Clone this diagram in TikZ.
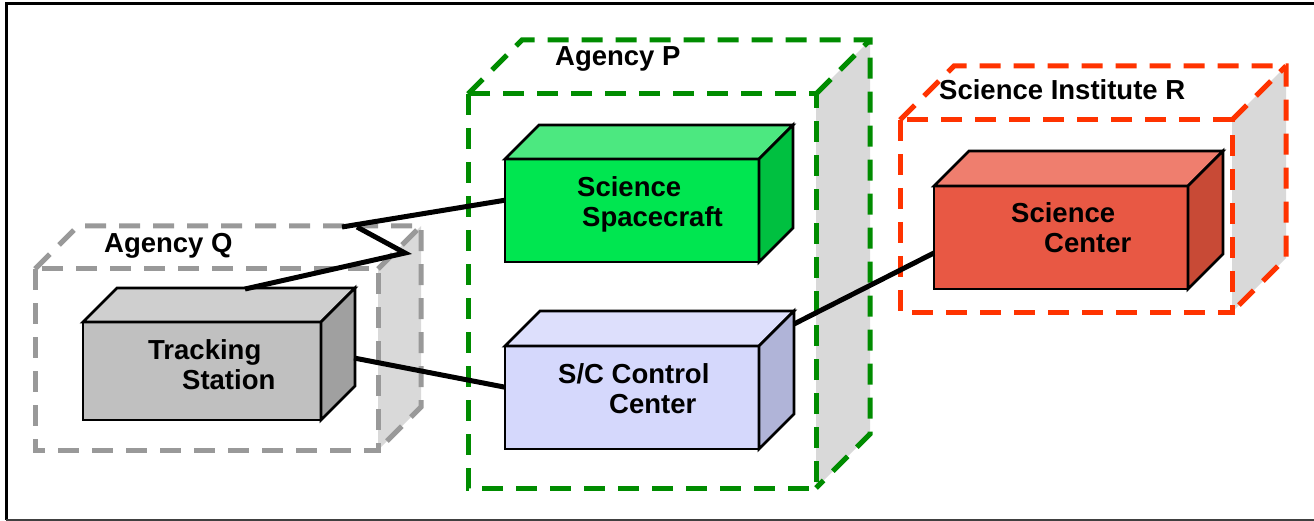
\documentclass[tikz,border=0pt]{standalone}
\usepackage{fontspec}
\setmainfont{Liberation Sans}
\usetikzlibrary{calc}

\definecolor{wiregray}{HTML}{999999}
\definecolor{wiregreen}{HTML}{008C00}
\definecolor{wirered}{HTML}{FF3300}
\definecolor{sidegray}{HTML}{D9D9D9}

\definecolor{tsfront}{HTML}{C0C0C0}
\definecolor{tstop}{HTML}{CFCFCF}
\definecolor{tsside}{HTML}{A0A0A0}
\definecolor{ssfront}{HTML}{00E650}
\definecolor{sstop}{HTML}{4CE880}
\definecolor{ssside}{HTML}{00C040}
\definecolor{ccfront}{HTML}{D5D8FC}
\definecolor{cctop}{HTML}{DDDFFC}
\definecolor{ccside}{HTML}{B0B4D8}
\definecolor{scfront}{HTML}{E85844}
\definecolor{sctop}{HTML}{EF7E6E}
\definecolor{scside}{HTML}{C84A36}

% dashed wire-frame box: colour, x1, y1, x2, y2 (front face), depth
\newcommand\wirebox[6]{%
  \fill[sidegray] (#4,#3) -- (#4+#6,#3-#6) -- (#4+#6,#5-#6) -- (#4,#5) -- cycle;
  \draw[wire,draw=#1] (#2,#3) rectangle (#4,#5);
  \draw[wire,draw=#1] (#2,#3) -- (#2+#6,#3-#6) -- (#4+#6,#3-#6) -- (#4+#6,#5-#6) -- (#4,#5);
  \draw[wire,draw=#1] (#4,#3) -- (#4+#6,#3-#6);
}
% solid cuboid: name, x, y (front top-left), width, height, depth, front, top, side
\newcommand\cuboid[9]{%
  \node[face, fill=#7, minimum width=#4pt, minimum height=#5pt,
        anchor=north west, inner sep=0pt, outer sep=0pt] (#1) at (#2,#3) {};
  \draw[face, fill=#8] (#1.north west) -- ++(#6,-#6) -- ++(#4,0) -- (#1.north east) -- cycle;
  \draw[face, fill=#9] (#1.north east) -- ++(#6,-#6) -- ++(0,#5) -- (#1.south east) -- cycle;
}

\begin{document}
\begin{tikzpicture}[x=1pt,y=-1pt,
  lbl/.style={font=\fontsize{27.5}{30}\selectfont\bfseries, inner sep=0pt, anchor=base west},
  face/.style={draw=black, line width=2.7pt, line join=miter},
  wire/.style={line width=5pt, dash pattern=on 21pt off 13pt},
  link/.style={draw=black, line width=5pt}]

\useasboundingbox (0,0) rectangle (1314,521);

% outer frame
\draw[line width=3pt] (1320,4) -- (6,4) -- (6,520);
\draw[line width=2.5pt, black!75] (6,520) -- (1320,520);

% organisations
\wirebox{wiregray}{35}{269}{378}{450}{43}
\wirebox{wiregreen}{468}{94}{816}{488}{54}
\wirebox{wirered}{900}{120}{1232}{312}{54}

% facilities
\cuboid{ts}{83}{322}{238}{98}{34}{tsfront}{tstop}{tsside}
\cuboid{ss}{505}{159}{254}{103}{34}{ssfront}{sstop}{ssside}
\cuboid{cc}{505}{346}{254}{103}{35}{ccfront}{cctop}{ccside}
\cuboid{sc}{934}{186}{254}{103}{35}{scfront}{sctop}{scside}

% links
\coordinate (z1) at (405,253);
\coordinate (z2) at (357,227);
\coordinate (z3) at (342,227);
\draw[link] ($(ss.north west)!0.4!(ss.south west)$) -- (z3);
\draw[link] (z2) -- (z1) -- ($(ts.north west)+(162,-33)$);
\draw[link] ($(ts.north east)+(33,36)$) -- ($(cc.north west)!0.4!(cc.south west)$);
\draw[link] ($(cc.north east)+(35,-22)$) -- ($(sc.north west)!0.65!(sc.south west)$);

% labels
\node[lbl] (lq) at (104,253) {Agency Q};
\node[lbl] (lp) at (555,66) {Agency P};
\node[lbl] (lr) at (939,100) {Science Institute R};

\node[lbl] (ts1) at (148,359) {Tracking};
\node[lbl] (ts2) at (182,389) {Station};
\node[lbl] (ss1) at (577,197) {Science};
\node[lbl] (ss2) at (582,227) {Spacecraft};
\node[lbl] (cc1) at (558,383) {S/C Control};
\node[lbl] (cc2) at (609,413) {Center};
\node[lbl] (sc1) at (1011,223) {Science};
\node[lbl] (sc2) at (1044,253) {Center};
\end{tikzpicture}
\end{document}
